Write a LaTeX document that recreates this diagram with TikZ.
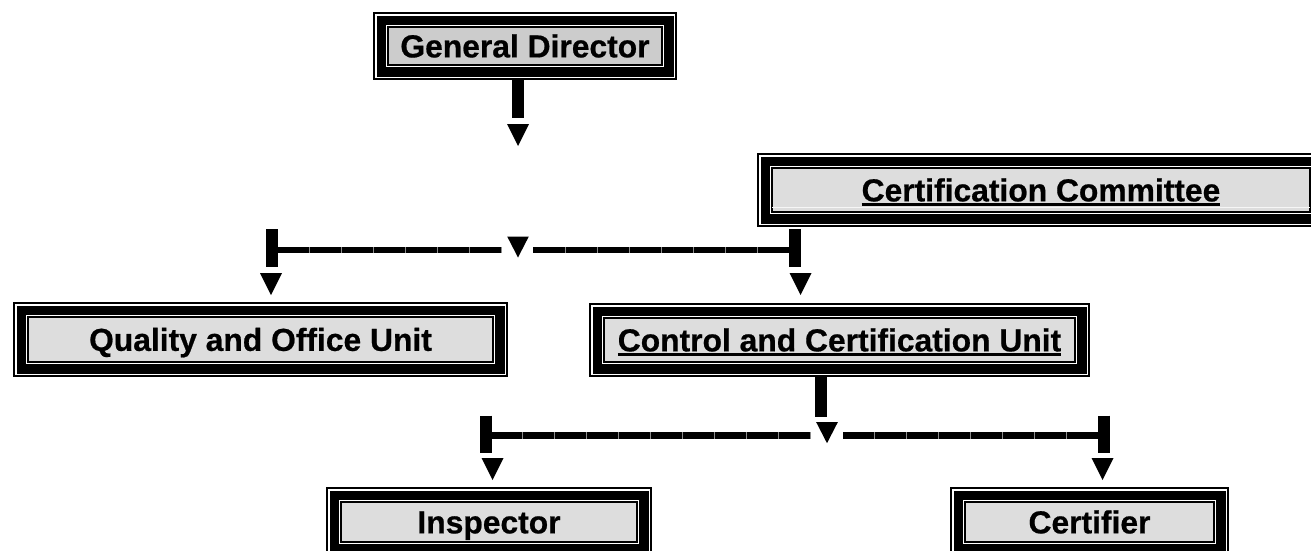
\documentclass[tikz,border=0pt]{standalone}
\usepackage{fontspec}
\setmainfont{Liberation Sans}
\newfontfamily\boxfont{Liberation Sans Bold}[FakeBold=0.6]
\usetikzlibrary{calc}
\definecolor{gdfill}{HTML}{CCCCCC}
\definecolor{boxfill}{HTML}{DDDDDD}
\newcommand\ulbox[1]{\setbox0\hbox{#1}\rlap{\rule[-4.6pt]{\wd0}{3pt}}\box0}
\tikzset{
  orgbox/.style={draw=black, line width=1.5pt, fill=boxfill, inner sep=0pt, outer sep=0pt,
    font=\fontsize{31.8}{36}\selectfont\boxfont, text height=22.7pt, text depth=0pt,
    preaction={draw=black, line width=30pt},
    preaction={draw=white, line width=26pt},
    preaction={draw=black, line width=23pt},
    preaction={draw=white, line width=4.5pt}},
  barline/.style={line width=11.8pt},
  hline/.style={line width=6.5pt},
  hticks/.style={line width=6.5pt, draw=black!45, dash pattern=on 0.6pt off 31.4pt},
  dtri/.pic={\fill[black] (-11,0) -- (11,0) -- (0,22) -- cycle;},
  mtri/.pic={\fill[black] (-10.8,0) -- (10.8,0) -- (0,21) -- cycle;}
}
\begin{document}
\begin{tikzpicture}[x=1pt, y=-1pt]
\useasboundingbox (0,0) rectangle (1311,550);
% boxes
\node[orgbox, fill=gdfill, minimum width=274pt, minimum height=38pt] (gd) at (525,46) {General Director};
\node[orgbox, minimum width=538pt, minimum height=44pt] (cc) at (1041,190) {\ulbox{Certification Committee}};
\node[orgbox, minimum width=465pt, minimum height=45pt] (qou) at (260.5,339.5) {Quality and Office Unit};
\node[orgbox, minimum width=471pt, minimum height=44pt] (ccu) at (839.5,340) {\ulbox{Control and Certification Unit}};
\node[orgbox, minimum width=296pt, minimum height=40pt] (insp) at (489,522) {Inspector};
\node[orgbox, minimum width=249pt, minimum height=40pt] (cert) at (1089.5,522) {Certifier};
\draw[white!93!gray, line width=0.8pt] ([yshift=5pt]cc.south west) -- ([yshift=5pt]cc.south east);
% junction coordinates
\coordinate (j1) at (518,250);
\coordinate (j1l) at (272,250);
\coordinate (j1r) at (795,250);
\coordinate (j2) at (827,435.7);
\coordinate (j2l) at (486,435.7);
\coordinate (j2r) at (1104,435.7);
% General Director -> first split
\draw[barline] ([yshift=-15pt]gd.south -| j1) -- ++(0,38);
\pic at (518,124) {dtri};
\pic at ($(j1)+(0,-13.5)$) {mtri};
\draw[hline] (j1l) -- ($(j1)+(-16,0)$);
\draw[hline] (j1r) -- ($(j1)+(15,0)$);
\draw[hticks] ($(j1l)+(37,0)$) -- ($(j1)+(-16,0)$);
\draw[hticks] ($(j1)+(47,0)$) -- (j1r);
\draw[barline] ($(j1l)+(0,-21)$) -- ($(j1l)+(0,17)$);
\draw[barline] ($(j1r)+(0,-21)$) -- ($(j1r)+(0,17)$);
\pic at ([yshift=44pt]qou.north -| 271,0) {dtri};
\pic at ([yshift=45pt]ccu.north -| 800.5,0) {dtri};
% Control and Certification Unit -> second split
\draw[barline] ([yshift=-15pt]ccu.south -| 821,0) -- (821,416.7);
\pic at ($(j2)+(0,-13.5)$) {mtri};
\draw[hline] (j2l) -- ($(j2)+(-17,0)$);
\draw[hline] (j2r) -- ($(j2)+(16,0)$);
\draw[hticks] ($(j2l)+(35.5,0)$) -- ($(j2)+(-17,0)$);
\draw[hticks] ($(j2)+(47,0)$) -- (j2r);
\draw[barline] ($(j2l)+(0,-20)$) -- ($(j2l)+(0,17.5)$);
\draw[barline] ($(j2r)+(0,-20)$) -- ($(j2r)+(0,17.5)$);
\pic at ([yshift=44pt]insp.north -| 492.5,0) {dtri};
\pic at ([yshift=44pt]cert.north -| 1102.5,0) {dtri};
\end{tikzpicture}
\end{document}
